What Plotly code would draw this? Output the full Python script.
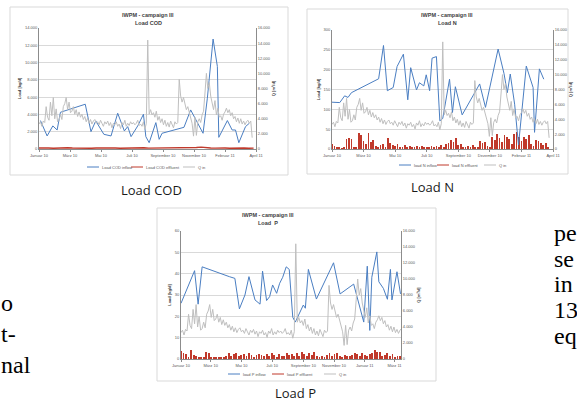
import plotly.graph_objects as go
import pandas as pd

W, H = 577, 403
START = pd.Timestamp("2010-01-01")

# ---------------- data ----------------
# Q in [m3/d], sampled every 3 days from 1 Jan 2010
q_in = [
    3300, 3600, 3000, 3700, 3500, 5600, 4200, 3800, 6200, 4400,
    6800, 4000, 5300, 3600, 3800, 4600, 3900, 5600, 6000, 6800,
    5200, 6200, 4800, 5000, 5600, 4600, 5200, 4300, 4900, 4200,
    4600, 3900, 4300, 3600, 4100, 3400, 3900, 3300, 3700, 3900,
    3400, 3600, 3200, 3800, 3400, 3000, 3600, 3300, 3700, 3100,
    3500, 2800, 3400, 3200, 3600, 3000, 3300, 2700, 3500, 3200,
    3800, 3000, 3400, 3100, 3600, 3300, 3500, 3200, 3400, 3800,
    3100, 3300, 3000, 3600, 2600, 3400, 14400, 4600, 5200, 4500,
    4800, 4200, 5000, 3800, 4300, 3500, 4000, 3200, 3800, 3000,
    3500, 2900, 3700, 3300, 2800, 3600, 3300, 3500, 9200, 7000,
    6200, 6800, 5800, 5200, 5600, 4800, 4200, 3400, 1700, 4200,
    1800, 3600, 4000, 3500, 4500, 5000, 7400, 10000, 8000, 8800,
    7000, 6200, 5200, 6400, 4500, 5400, 4200, 4400, 3800, 4600,
    4900, 5400, 4800, 5200, 4400, 4800, 4000, 4300, 3600, 4100,
    3400, 4000, 3300, 3700, 3200, 3600, 3800, 3400, 3700, 1500,
]
q_step_days = 3

# Load COD inflow [kg/d] (campaign day, value)
cod_in_day = [3, 17, 29, 38, 45, 97, 109, 119, 136, 151, 165, 179, 186, 193, 207,
              219, 224, 231, 245, 252, 258, 304, 318, 344, 353, 365, 374, 377, 395,
              405, 412, 419, 433, 441]
cod_in = [3290, 1510, 2670, 2200, 4250, 5180, 2010, 3250, 1700, 1510, 4140, 2090,
          2590, 1430, 2670, 4020, 1430, 730, 3050, 1120, 1820, 2510, 4520, 1820,
          5880, 12720, 9550, 1350, 3290, 2200, 2200, 730, 2590, 2980]
# Load COD effluent [kg/d], every 10 days
cod_eff = [120, 150, 110, 90, 130, 100, 140, 110, 90, 120, 100, 80, 110, 130, 90, 100,
           120, 90, 110, 100, 80, 120, 140, 100, 110, 90, 100, 130, 90, 80, 120, 100,
           140, 180, 220, 150, 120, 100, 130, 110, 90, 120, 100, 110, 90, 100]
cod_eff_step = 10

# Load N inflow [kg/d]
n_in_day = [0, 16, 26, 33, 40, 96, 106, 114, 126, 134, 147, 156, 162, 174, 180, 189,
            194, 201, 206, 215, 222, 228, 242, 248, 254, 268, 304, 316, 342, 354, 361,
            367, 376, 384, 400, 409, 414, 417, 427, 436]
n_in = [118, 117, 134, 130, 142, 177, 261, 147, 155, 208, 239, 124, 205, 149, 167, 159,
        187, 147, 229, 233, 71, 77, 176, 92, 157, 86, 164, 105, 252, 191, 142, 189,
        113, 10, 209, 170, 155, 42, 202, 176]
# Load N effluent [kg/d], every 5 days
n_eff = [12, 8, 3, 5, 2, 4, 25, 28, 26, 6,
         4, 40, 36, 20, 12, 40, 18, 22, 8, 4,
         10, 12, 6, 28, 14, 10, 8, 12, 6, 5,
         10, 4, 8, 6, 3, 7, 4, 8, 5, 6,
         3, 7, 5, 8, 4, 10, 6, 12, 15, 22,
         18, 28, 10, 12, 6, 5, 8, 4, 10, 6,
         3, 20, 14, 18, 8, 5, 30, 22, 38, 28,
         18, 35, 30, 25, 12, 38, 42, 30, 20, 30,
         25, 35, 12, 8, 22, 20, 15, 10, 14, 6]
eff_step = 5

# Load P inflow [kg/d]
p_in_day = [0, 27, 34, 42, 96, 107, 116, 127, 135, 147, 157, 162, 170, 176, 182, 190,
            196, 202, 209, 215, 222, 227, 243, 247, 253, 269, 303, 316, 343, 363, 370,
            375, 379, 389, 393, 402, 410, 416, 419, 429, 436]
p_in = [26.1, 41.4, 25.7, 43.2, 38.6, 37.8, 23.5, 30.0, 38.6, 27.7, 25.7, 41.2, 27.4,
        29.2, 34.7, 30.8, 35.5, 38.3, 43.2, 42.0, 19.6, 17.3, 25.3, 23.8, 42.0, 28.1,
        45.1, 30.5, 35.1, 17.3, 43.5, 13.4, 38.3, 50.2, 36.2, 33.1, 28.0, 42.0, 27.7,
        40.9, 30.5]
# Load P effluent [kg/d], every 5 days
p_eff = [3.8, 3, 2.2, 1, 4, 2, 1.2, 0.8, 0.5, 1, 3.2, 3, 1, 0.6, 0.8, 0.5, 0.6, 1, 1.5, 3,
         1.2, 2.5, 3, 1.2, 2, 2.5, 1.5, 3, 2, 1, 1.8, 2.5, 2, 1.2, 2.2, 1.5, 2.8, 2, 1, 2.5,
         1.5, 1.2, 2.8, 2, 2.5, 1.5, 3, 1.5, 3.5, 2.5, 1.5, 3, 2, 3.2, 1.5, 1, 1.5, 0.8, 2,
         2.8, 1.2, 2.5, 3, 1.5, 0.8, 2, 1.5, 1.2, 2, 2.8, 2.2, 1.5, 3, 2, 1.5, 2.5, 3, 4,
         3.5, 3.5, 1.5, 2, 3, 1.5, 2.5, 1, 1.5, 1.2]

# axis tick labels
ticks_ab_days = [0, 65, 130, 195, 260, 325, 390, 455]
ticks_cod = ["Januar 10", "März 10", "Mai 10", "Juli 10", "September 10",
             "November 10", "Februar 11", "April 11"]
ticks_n = ["Januar 10", "März 10", "Mai 10", "Juli 10", "September 10",
           "Dezember 10", "Februar 11", "April 11"]
ticks_p_dates = ["2010-01-01", "2010-03-01", "2010-05-01", "2010-07-01", "2010-09-01",
                 "2010-11-01", "2011-01-01", "2011-03-01"]
ticks_p = ["Januar 10", "März 10", "Mai 10", "Juli 10", "September 10",
           "November 10", "Januar 11", "März 11"]

# ---------------- helpers ----------------
def dates(days):
    return [START + pd.Timedelta(days=float(d)) for d in days]

def grid(n, step):
    return dates([i * step for i in range(n)])

def X(px):
    return px / W

def Y(py):
    return 1 - py / H

BLUE = "#4A7EC2"
RED = "#C0392B"
GRAY = "#BFBFBF"
TXT = "#595959"
AX = "#8C8C8C"
SANS = "Liberation Sans, Arial, sans-serif"

q_dates = grid(len(q_in), q_step_days)

fig = go.Figure()

# chart 1 : COD
fig.add_trace(go.Scatter(x=dates(cod_in_day), y=cod_in, mode="lines",
                         line=dict(color=BLUE, width=1), name="Load COD inflow",
                         xaxis="x", yaxis="y"))
fig.add_trace(go.Scatter(x=grid(len(cod_eff), cod_eff_step), y=cod_eff, mode="lines",
                         line=dict(color=RED, width=1.4), name="Load COD effluent",
                         xaxis="x", yaxis="y"))
fig.add_trace(go.Scatter(x=q_dates, y=q_in, mode="lines",
                         line=dict(color=GRAY, width=1), name="Q in",
                         xaxis="x", yaxis="y4"))

# chart 2 : N
fig.add_trace(go.Scatter(x=dates(n_in_day), y=n_in, mode="lines",
                         line=dict(color=BLUE, width=1), name="load N inflow",
                         xaxis="x2", yaxis="y2"))
fig.add_trace(go.Bar(x=grid(len(n_eff), eff_step), y=n_eff, marker_color=RED,
                     marker_line_width=0, width=86400000 * 1.7, name="load N effluent",
                     xaxis="x2", yaxis="y2"))
fig.add_trace(go.Scatter(x=q_dates, y=q_in, mode="lines",
                         line=dict(color=GRAY, width=1), name="Q in",
                         xaxis="x2", yaxis="y5"))

# chart 3 : P
fig.add_trace(go.Scatter(x=dates(p_in_day), y=p_in, mode="lines",
                         line=dict(color=BLUE, width=1), name="load P inflow",
                         xaxis="x3", yaxis="y3"))
fig.add_trace(go.Bar(x=grid(len(p_eff), eff_step), y=p_eff, marker_color=RED,
                     marker_line_width=0, width=86400000 * 1.7, name="load P effluent",
                     xaxis="x3", yaxis="y3"))
fig.add_trace(go.Scatter(x=q_dates, y=q_in, mode="lines",
                         line=dict(color=GRAY, width=1), name="Q in",
                         xaxis="x3", yaxis="y6"))

tickfont = dict(size=4, color=TXT, family=SANS)
titlefont = dict(size=4, color="#404040", family=SANS)


def xax(domain, anchor, rng_days, tickvals, ticktext):
    return dict(domain=domain, anchor=anchor, type="date",
                range=[START, START + pd.Timedelta(days=rng_days)],
                tickmode="array", tickvals=tickvals, ticktext=ticktext,
                showgrid=False, showline=True, linecolor=AX, linewidth=1,
                ticks="outside", ticklen=2, tickcolor=AX, tickfont=tickfont,
                zeroline=False)


def yleft(domain, anchor, top, dtick):
    return dict(domain=domain, anchor=anchor, range=[0, top], dtick=dtick,
                tickformat=",d", showgrid=True, gridcolor="#D9D9D9", gridwidth=0.6,
                showline=True, linecolor=AX, linewidth=1, ticks="",
                tickfont=tickfont, zeroline=False,
                title=dict(text="<b>Load [kg/d]</b>", font=titlefont, standoff=3))


def yright(overlay, anchor):
    return dict(overlaying=overlay, anchor=anchor, side="right", range=[0, 16000],
                dtick=2000, tickformat=",d", showgrid=False, showline=True,
                linecolor=AX, linewidth=1, ticks="",
                tickfont=tickfont, zeroline=False,
                title=dict(text="<b>Q [m³/d]</b>", font=titlefont, standoff=2))


ab_ticks = dates(ticks_ab_days)

fig.update_layout(
    width=W, height=H, autosize=False,
    margin=dict(l=0, r=0, t=0, b=0, pad=0, autoexpand=False),
    paper_bgcolor="white", plot_bgcolor="white",
    separators=",.", showlegend=False, bargap=0, hovermode=False,
    xaxis=xax([X(39), X(256)], "y", 455, ab_ticks, ticks_cod),
    yaxis=yleft([Y(149), Y(28)], "x", 14000, 2000),
    yaxis4=yright("y", "x"),
    xaxis2=xax([X(332), X(553)], "y2", 455, ab_ticks, ticks_n),
    yaxis2=yleft([Y(149), Y(30)], "x2", 300, 50),
    yaxis5=yright("y2", "x2"),
    xaxis3=xax([X(181), X(401)], "y3", 437, ticks_p_dates, ticks_p),
    yaxis3=yleft([Y(359), Y(231)], "x3", 60, 10),
    yaxis6=yright("y3", "x3"),
)

shapes = []
annotations = []


def note(text, px, py, font, xanchor="center", yanchor="middle"):
    annotations.append(dict(text=text, x=X(px), y=Y(py), xref="paper", yref="paper",
                            xanchor=xanchor, yanchor=yanchor, showarrow=False,
                            font=font))


# chart frames
for (x0, y0, x1, y1) in [(10, 7, 288, 175), (307, 9, 568, 174), (157, 208, 436, 381)]:
    shapes.append(dict(type="rect", xref="paper", yref="paper",
                       x0=X(x0), x1=X(x1), y0=Y(y1), y1=Y(y0),
                       line=dict(color="#D9D9D9", width=1), fillcolor="rgba(0,0,0,0)",
                       layer="below"))

# chart titles
title_font = dict(size=5.5, color="#404040", family=SANS)
for cx, y1, y2, name in [(148, 15, 23, "Load COD"), (447, 15, 23, "Load N"),
                         (268, 215, 223, "Load  P")]:
    note("<b>IWPM - campaign III</b>", cx, y1, title_font)
    note("<b>%s</b>" % name, cx, y2, title_font)

# legends (drawn as keys + labels)
legends = [
    (167, [(87, BLUE, "Load COD inflow"), (131, RED, "Load COD effluent"),
           (183, GRAY, "Q in")]),
    (165, [(399, BLUE, "load N inflow"), (437, RED, "load N effluent"),
           (484, GRAY, "Q in")]),
    (374, [(228, BLUE, "load P inflow"), (272, RED, "load P effluent"),
           (324, GRAY, "Q in")]),
]
for ly, items in legends:
    for lx, col, label in items:
        shapes.append(dict(type="line", xref="paper", yref="paper",
                           x0=X(lx), x1=X(lx + 12), y0=Y(ly), y1=Y(ly),
                           line=dict(color=col, width=1)))
        note(label, lx + 13, ly, dict(size=4, color=TXT, family=SANS), xanchor="left")

# captions
cap_font = dict(size=13, color="#1a1a1a", family="Open Sans, sans-serif")
for cx, cy, txt in [(151, 190, "Load COD"), (432, 187, "Load N"), (295, 393, "Load P")]:
    note(txt, cx, cy, cap_font)

# surrounding body text (cut off by the page edges)
SERIF = dict(size=24, color="black", family="Liberation Serif, Times New Roman, serif")
for ty, txt in [(303, "o"), (334, "t-"), (365, "nal")]:
    note(txt, -1, ty, SERIF, xanchor="left")
for ty, txt in [(233, "pe"), (259, "se"), (284, "in"), (310, "13"), (336, "eq")]:
    note(txt, 552, ty, SERIF, xanchor="left")

fig.update_layout(shapes=shapes, annotations=annotations)

fig.write_html("out.html", config={"displayModeBar": False},
               post_script="document.body.style.margin='0px';")
